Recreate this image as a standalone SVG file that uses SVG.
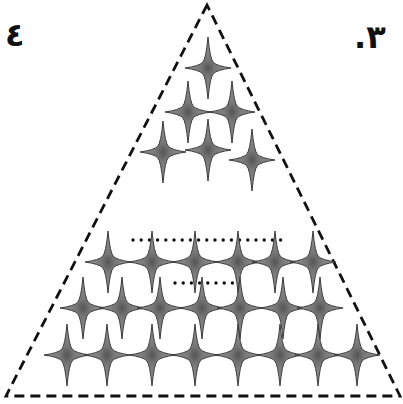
<svg xmlns="http://www.w3.org/2000/svg" width="403" height="404" viewBox="0 0 403 404">
<defs>
<radialGradient id="sg" cx="0.5" cy="0.5" r="0.5">
<stop offset="0" stop-color="#555"/>
<stop offset="0.3" stop-color="#777"/>
<stop offset="1" stop-color="#9a9a9a"/>
</radialGradient>
<path id="star" d="M0,-31 Q2,-9 5.5,-5.5 Q9,-2 23,0 Q9,2 5.5,5.5 Q2,9 0,31 Q-2,9 -5.5,5.5 Q-9,2 -23,0 Q-9,-2 -5.5,-5.5 Q-2,-9 0,-31 Z"/>
</defs>
<style>
.st{fill:url(#sg);stroke:#3c3c3c;stroke-width:1}
.tri{fill:none;stroke:#111;stroke-width:2.8;stroke-dasharray:10,6}
.dots{fill:none;stroke:#111;stroke-width:3.4;stroke-linecap:round;stroke-dasharray:0,8.2}
.lbl{font-family:"DejaVu Sans",sans-serif;font-size:32px;font-weight:bold;fill:#111}
</style>
<rect width="403" height="404" fill="#fff"/>
<g id="labels">
<text class="lbl" x="5" y="46">٤</text>
<text class="lbl" x="354" y="48">.٣</text>
</g>
<g id="connectors">
<path class="tri" d="M207,5 L6,396 L400,396 Z"/>
<path class="dots" d="M133,240 L282,240"/>
<path class="dots" d="M175,283 L233,283"/>
</g>
<g id="stars-top">
<use href="#star" class="st" x="208" y="68"/>
<use href="#star" class="st" x="188" y="112"/>
<use href="#star" class="st" x="232" y="112"/>
<use href="#star" class="st" x="163" y="152"/>
<use href="#star" class="st" x="208" y="150"/>
<use href="#star" class="st" x="252" y="160"/>
</g>
<g id="stars-row1">
<use href="#star" class="st" x="108" y="262"/>
<use href="#star" class="st" x="152" y="262"/>
<use href="#star" class="st" x="195" y="262"/>
<use href="#star" class="st" x="238" y="262"/>
<use href="#star" class="st" x="275" y="262"/>
<use href="#star" class="st" x="313" y="262"/>
</g>
<g id="stars-row2">
<use href="#star" class="st" x="83" y="308"/>
<use href="#star" class="st" x="122" y="308"/>
<use href="#star" class="st" x="160" y="308"/>
<use href="#star" class="st" x="202" y="308"/>
<use href="#star" class="st" x="240" y="308"/>
<use href="#star" class="st" x="283" y="308"/>
<use href="#star" class="st" x="320" y="308"/>
</g>
<g id="stars-row3">
<use href="#star" class="st" x="67" y="355"/>
<use href="#star" class="st" x="107" y="355"/>
<use href="#star" class="st" x="152" y="355"/>
<use href="#star" class="st" x="195" y="355"/>
<use href="#star" class="st" x="238" y="355"/>
<use href="#star" class="st" x="280" y="355"/>
<use href="#star" class="st" x="318" y="355"/>
<use href="#star" class="st" x="357" y="355"/>
</g>
</svg>
